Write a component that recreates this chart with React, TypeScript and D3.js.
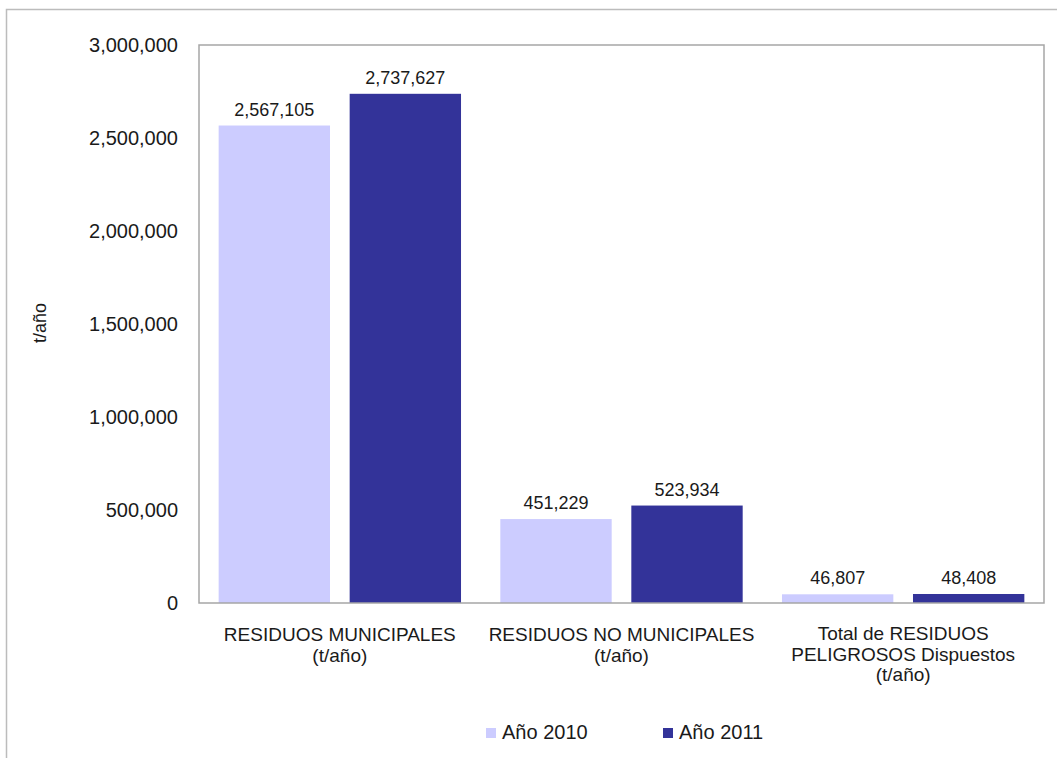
import React from "react";
import * as d3 from "d3";

const categories = [
  ["RESIDUOS MUNICIPALES", "(t/año)"],
  ["RESIDUOS NO MUNICIPALES", "(t/año)"],
  ["Total de RESIDUOS", "PELIGROSOS Dispuestos", "(t/año)"],
];
const categoryKeys = ["municipales", "noMunicipales", "peligrosos"];
const seriesNames = ["Año 2010", "Año 2011"];
const values2010 = [2567105, 451229, 46807];
const values2011 = [2737627, 523934, 48408];
const yTicks = [0, 500000, 1000000, 1500000, 2000000, 2500000, 3000000];
const yTitle = "t/año";
const colors = ["#CCCCFF", "#333399"];

const W = 1057;
const H = 758;
const plot = { left: 199, right: 1044, top: 45, bottom: 603 };
const font = "'Liberation Sans', Arial, sans-serif";
const textColor = "#1a1a1a";

export default function App() {
  const x = d3.scaleBand<string>().domain(categoryKeys).range([plot.left, plot.right]).paddingInner(0).paddingOuter(0);
  const xs = d3.scaleBand<string>().domain(seriesNames).range([0, x.bandwidth()]).paddingInner(0.15).paddingOuter(0.15);
  const y = d3.scaleLinear().domain([0, 3000000]).range([plot.bottom, plot.top]);
  const fmt = d3.format(",");
  const series = [values2010, values2011];

  return (
    <svg width={W} height={H} style={{ position: "absolute", left: 0, top: 0, background: "#fff" }}>
      <rect x={6.5} y={9.5} width={1100} height={800} fill="#fff" stroke="#bcbcbc" strokeWidth={1.5} />
      {/* bars */}
      {categoryKeys.map((c, ci) =>
        seriesNames.map((s, si) => {
          const v = series[si][ci];
          const bx = (x(c) as number) + (xs(s) as number);
          return (
            <g key={c + s}>
              <rect x={bx} y={y(v)} width={xs.bandwidth()} height={y(0) - y(v)} fill={colors[si]} />
              <text x={bx + xs.bandwidth() / 2} y={y(v) - 10} textAnchor="middle" fontFamily={font} fontSize={18} fill={textColor}>
                {fmt(v)}
              </text>
            </g>
          );
        })
      )}
      {/* plot border */}
      <rect x={plot.left} y={plot.top} width={plot.right - plot.left} height={plot.bottom - plot.top} fill="none" stroke="#a6a6a6" strokeWidth={1.5} />
      {/* y ticks */}
      {yTicks.map((t) => (
        <text key={t} x={178} y={y(t)} dy="0.36em" textAnchor="end" fontFamily={font} fontSize={20} fill={textColor}>
          {fmt(t)}
        </text>
      ))}
      <text transform={`translate(46,323) rotate(-90)`} textAnchor="middle" fontFamily={font} fontSize={18} fill={textColor}>
        {yTitle}
      </text>
      {/* category labels */}
      {categoryKeys.map((c, ci) => {
        const cx = (x(c) as number) + x.bandwidth() / 2;
        return (
          <text key={c} textAnchor="middle" fontFamily={font} fontSize={19} fill={textColor}>
            {categories[ci].map((line, li) => (
              <tspan key={li} x={cx} y={(ci === 2 ? 640 : 641) + li * 20.5}>
                {line}
              </tspan>
            ))}
          </text>
        );
      })}
      {/* legend */}
      {seriesNames.map((s, si) => {
        const lx = [486, 663][si];
        return (
          <g key={s}>
            <rect x={lx} y={728} width={10} height={10} fill={colors[si]} />
            <text x={lx + 16} y={739} fontFamily={font} fontSize={20} fill={textColor}>
              {s}
            </text>
          </g>
        );
      })}
    </svg>
  );
}
